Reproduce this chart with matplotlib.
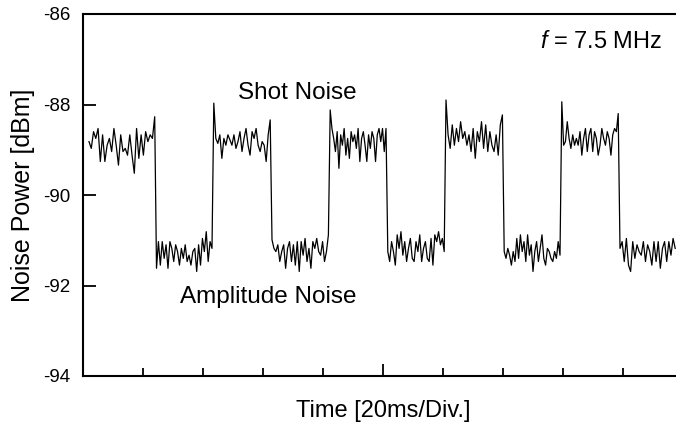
import numpy as np
import matplotlib
matplotlib.use("Agg")
import matplotlib.pyplot as plt
from matplotlib.ticker import FixedLocator

plt.rcParams['font.family'] = ['Liberation Sans', 'DejaVu Sans']
plt.rcParams['mathtext.fontset'] = 'custom'
plt.rcParams['mathtext.it'] = 'Liberation Sans:italic'
plt.rcParams['mathtext.rm'] = 'Liberation Sans'

# Segment boundaries in divisions (20 ms / div)
edges = [0.10, 1.225, 2.18, 3.15, 4.12, 5.08, 6.05, 7.02, 7.98, 8.95, 9.90]

# Noise power [dBm] per segment (alternating shot noise / amplitude noise)
seg1 = [-88.82, -88.97, -88.60, -88.75, -88.53, -89.26, -88.67, -89.26, -88.90, -88.75,
        -89.04, -88.53, -88.90, -89.34, -88.67, -89.04, -88.97, -89.12, -88.67, -89.12,
        -89.52, -88.53, -89.19, -88.67, -89.12, -88.60, -88.82, -88.67, -88.75, -88.27]
seg2 = [-91.62, -91.03, -91.55, -91.03, -91.40, -91.10, -91.62, -91.03, -91.18, -91.47,
        -91.10, -91.25, -91.55, -91.18, -91.40, -91.10, -91.47, -91.33, -91.55, -91.25,
        -91.18, -91.69, -91.10, -91.55, -90.96, -91.25, -90.81, -91.47, -91.03, -91.18]
seg3 = [-87.97, -88.75, -88.86, -88.67, -89.19, -88.75, -88.90, -88.67, -88.78, -88.90,
        -88.67, -88.97, -88.82, -88.60, -89.04, -88.75, -88.53, -88.90, -89.12, -88.60,
        -88.75, -88.53, -88.90, -89.04, -88.82, -88.90, -89.26, -88.67, -88.34]
seg4 = [-90.99, -91.18, -91.25, -91.10, -91.47, -91.25, -91.10, -91.62, -91.18, -91.03,
        -91.47, -91.10, -91.55, -91.03, -91.69, -91.03, -91.33, -90.96, -91.47, -91.18,
        -91.62, -91.03, -91.18, -90.96, -91.25, -91.33, -91.03, -91.47, -91.25, -90.88]
seg5 = [-88.12, -88.53, -88.75, -89.04, -88.60, -89.41, -88.67, -88.90, -88.53, -89.12,
        -88.75, -89.19, -88.60, -88.82, -88.67, -88.97, -88.53, -89.26, -88.75, -88.60,
        -88.90, -89.26, -88.67, -88.97, -88.60, -88.75, -89.26, -88.67, -88.53, -88.82,
        -88.53, -89.04, -88.53]
seg6 = [-91.25, -91.47, -91.03, -91.25, -91.55, -90.88, -91.18, -90.81, -91.33, -91.03,
        -91.47, -91.18, -90.96, -91.40, -91.47, -91.03, -91.25, -90.88, -91.47, -91.18,
        -91.03, -91.40, -91.47, -90.96, -91.55, -90.88, -91.03, -90.81, -91.10, -90.96,
        -91.25]
seg7 = [-87.90, -88.67, -88.97, -88.45, -88.90, -88.53, -88.82, -88.38, -88.75, -88.60,
        -88.90, -88.67, -89.04, -88.53, -89.19, -88.60, -88.82, -88.38, -88.97, -88.45,
        -89.04, -88.60, -88.90, -89.04, -88.67, -89.12, -88.45, -88.23]
seg8 = [-91.25, -91.40, -91.18, -91.33, -91.55, -91.25, -91.47, -90.96, -91.40, -90.88,
        -91.25, -91.03, -91.47, -90.88, -91.33, -91.10, -91.69, -91.25, -91.03, -91.47,
        -91.18, -90.88, -91.40, -91.55, -91.18, -91.25, -91.40, -91.47, -91.25, -91.40,
        -91.03, -91.33]
seg9 = [-87.94, -88.90, -88.82, -88.38, -88.75, -88.97, -88.67, -88.90, -88.75, -88.90,
        -88.60, -89.12, -88.75, -88.53, -89.04, -88.67, -88.53, -89.04, -88.60, -88.75,
        -89.12, -88.90, -88.53, -88.75, -88.90, -88.60, -88.75, -89.12, -88.67, -88.53,
        -88.60, -88.20]
seg10 = [-91.18, -91.03, -91.47, -90.96, -91.55, -91.69, -91.03, -91.40, -91.10, -91.25,
         -91.33, -91.03, -91.47, -91.10, -91.25, -91.55, -91.03, -91.47, -91.03, -91.62,
         -91.18, -91.03, -91.47, -91.03, -91.33, -90.96, -91.18]
segments = [seg1, seg2, seg3, seg4, seg5, seg6, seg7, seg8, seg9, seg10]

yticks = [-94, -92, -90, -88, -86]
ytick_labels = ["-94", "-92", "-90", "-88", "-86"]

xs, ys = [], []
for i, seg in enumerate(segments):
    x = np.linspace(edges[i], edges[i + 1] - 0.03, len(seg))
    xs.append(x)
    ys.append(np.array(seg))
x_all = np.concatenate(xs)
y_all = np.concatenate(ys)

fig = plt.figure(figsize=(6.76, 4.25), dpi=100)
ax = fig.add_axes([83 / 676, 49 / 425, 600 / 676, 362 / 425])
ax.plot(x_all, y_all, color='black', lw=0.9)

ax.set_xlim(0, 10)
ax.set_ylim(-94, -86)
ax.set_yticks(yticks)
ax.set_yticklabels(ytick_labels)
ax.xaxis.set_major_locator(FixedLocator([5]))
ax.xaxis.set_minor_locator(FixedLocator([1, 2, 3, 4, 6, 7, 8, 9]))
ax.set_xticklabels([])
ax.tick_params(axis='x', which='major', direction='in', length=8.5, width=1.3)
ax.tick_params(axis='x', which='minor', direction='in', length=6, width=1.3)
ax.tick_params(axis='y', direction='in', length=9, width=1.3, labelsize=13.5, pad=9)
for s in ['left', 'bottom', 'top', 'right']:
    ax.spines[s].set_linewidth(1.5)

ax.set_ylabel("Noise Power [dBm]", fontsize=18, labelpad=6)
ax.set_xlabel("Time [20ms/Div.]", fontsize=17, labelpad=14)

ax.text(3.58, -87.75, "Shot Noise", fontsize=17.5, ha='center', va='center')
ax.text(3.08, -92.25, "Amplitude Noise", fontsize=17.5, ha='center', va='center')
fig.text(662 / 676, 1 - 42 / 425, r"$f$ = 7.5 MHz", fontsize=17, ha='right', va='center')

fig.savefig("out.png", dpi=100)
